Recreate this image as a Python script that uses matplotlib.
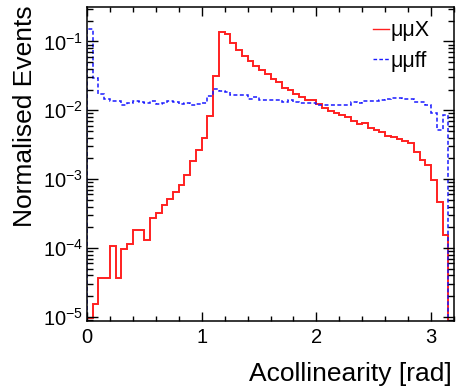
import numpy as np
import matplotlib
matplotlib.use("Agg")
import matplotlib.pyplot as plt
from matplotlib.ticker import MultipleLocator, LogLocator, NullFormatter

plt.rcParams['font.family'] = ['Liberation Sans', 'DejaVu Sans']
plt.rcParams['axes.unicode_minus'] = False

# ---- data (bin width 0.05 rad, 0 .. 3.15) ----
bin_width = 0.05
mumuX = [9.5e-6, 1.55e-5, 3.7e-5, 3.7e-5, 1.06e-4, 3.7e-5, 9.8e-5, 1.15e-4,
         1.83e-4, 1.83e-4, 1.32e-4, 2.74e-4, 3.25e-4, 4.14e-4, 5.06e-4, 6.4e-4,
         8.2e-4, 1.13e-3, 1.81e-3, 2.62e-3, 3.95e-3, 8.3e-3, 3.1e-2, 0.138,
         0.128, 0.095, 0.075, 0.062, 0.052, 0.044, 0.038, 0.034,
         0.0285, 0.0255, 0.021, 0.0195, 0.0175, 0.0158, 0.014, 0.014,
         0.0123, 0.0107, 0.0097, 0.0091, 0.0085, 0.008, 0.0069, 0.0064,
         0.0065, 0.0055, 0.0051, 0.00483, 0.0043, 0.0041, 0.0038, 0.0036,
         0.0034, 0.0025, 0.0019, 0.0016, 0.00098, 0.00046, 0.000155]
mumuff = [0.15, 0.029, 0.0175, 0.0148, 0.0137, 0.0137, 0.0121, 0.0129,
          0.0135, 0.013, 0.0129, 0.0135, 0.0122, 0.0128, 0.0135, 0.013,
          0.0125, 0.0128, 0.0118, 0.0124, 0.0127, 0.0163, 0.0207, 0.019,
          0.0186, 0.0166, 0.0166, 0.0165, 0.0148, 0.0156, 0.0142, 0.0142,
          0.0142, 0.014, 0.0132, 0.014, 0.0132, 0.0128, 0.0128, 0.0128,
          0.0121, 0.0121, 0.0121, 0.0121, 0.0121, 0.0121, 0.0132, 0.0128,
          0.0137, 0.0137, 0.0137, 0.0143, 0.0148, 0.015, 0.0153, 0.0148,
          0.0148, 0.0132, 0.0132, 0.0118, 0.0092, 0.0052, 0.0085]
labels = ["\u03bc\u03bcX", "\u03bc\u03bcff"]
xlabel = "Acollinearity [rad]"
ylabel = "Normalised Events"

edges = np.arange(len(mumuX) + 1) * bin_width

fig = plt.figure(figsize=(4.68, 3.86), dpi=100)
ax = fig.add_axes([87/468, 1-321/386, (454-87)/468, (321-7)/386])

ax.stairs(mumuX, edges, baseline=1e-9, color='#ff2020', lw=1.4, label=labels[0])
ax.stairs(mumuff, edges, baseline=1e-9, color='#1a1aff', lw=1.1,
          linestyle=(0, (2.6, 1.6)), label=labels[1])

ax.set_yscale('log')
ax.set_xlim(0, 3.2)
ax.set_ylim(8.7e-6, 0.316)

ax.xaxis.set_major_locator(MultipleLocator(1))
ax.xaxis.set_minor_locator(MultipleLocator(0.2))
ax.yaxis.set_major_locator(LogLocator(base=10, numticks=20))
ax.yaxis.set_minor_locator(LogLocator(base=10, subs=np.arange(2, 10), numticks=20))
ax.yaxis.set_minor_formatter(NullFormatter())

ax.tick_params(which='both', direction='in', top=True, right=True, width=1.0, color='black')
ax.tick_params(axis='x', which='major', length=6.5, labelsize=14.5, pad=5)
ax.tick_params(axis='x', which='minor', length=3.5)
ax.tick_params(axis='y', which='major', length=8, labelsize=14.5, pad=3)
ax.tick_params(axis='y', which='minor', length=4.3)
for s in ax.spines.values():
    s.set_linewidth(1.1)

ax.set_xlabel(xlabel, fontsize=19, ha='right', va='baseline')
ax.xaxis.set_label_coords(0.9946, -0.191)
ax.set_ylabel(ylabel, fontsize=19, ha='right', va='center')
ax.yaxis.set_label_coords(-0.169, 1.006)

leg = ax.legend(loc='upper left', bbox_to_anchor=(0.779, 0.958), frameon=False,
                fontsize=15.5, handlelength=0.75, handletextpad=0.08,
                labelspacing=0.45, borderpad=0, borderaxespad=0)
for h in leg.get_lines():
    h.set_linewidth(1.0)

fig.savefig('out.png', dpi=100)
